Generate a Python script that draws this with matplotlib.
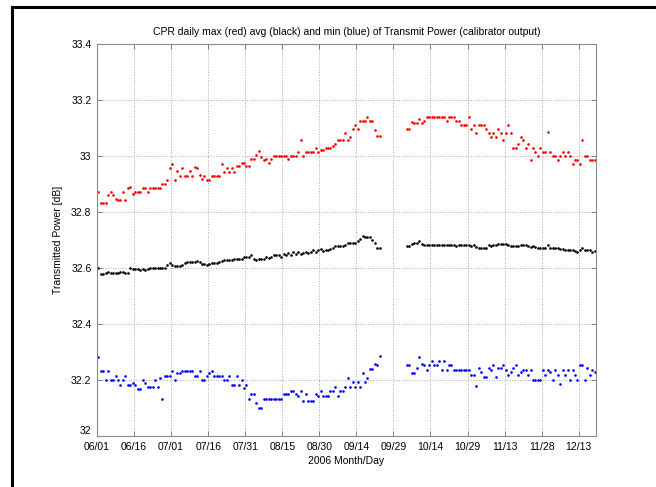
import numpy as np
import pandas as pd
import matplotlib
matplotlib.use('Agg')
import matplotlib.pyplot as plt
import matplotlib.transforms as mtransforms
from matplotlib.lines import Line2D

# daily values, 06/01 .. 09/24 and 10/04 .. 12/19 (gap in between)
max_a = [32.870, 32.830, 32.830, 32.830, 32.858, 32.870, 32.858, 32.846, 32.842, 32.842,
         32.870, 32.842, 32.886, 32.889, 32.862, 32.870, 32.870, 32.870, 32.886, 32.886,
         32.870, 32.886, 32.886, 32.886, 32.886, 32.886, 32.898, 32.898, 32.913, 32.955,
         32.970, 32.913, 32.945, 32.929, 32.955, 32.929, 32.929, 32.945, 32.929, 32.960,
         32.955, 32.930, 32.917, 32.928, 32.914, 32.914, 32.928, 32.928, 32.928, 32.928,
         32.971, 32.943, 32.956, 32.943, 32.956, 32.943, 32.962, 32.962, 32.974, 32.974,
         32.962, 32.962, 32.988, 32.988, 33.001, 33.017, 32.996, 32.983, 32.988, 32.974,
         32.988, 33.000, 33.000, 33.000, 33.000, 33.000, 33.000, 32.988, 33.000, 33.000,
         33.000, 33.013, 33.057, 33.000, 33.014, 33.014, 33.013, 33.013, 33.029, 33.013,
         33.020, 33.020, 33.026, 33.026, 33.029, 33.035, 33.042, 33.055, 33.055, 33.055,
         33.081, 33.055, 33.068, 33.095, 33.108, 33.095, 33.124, 33.124, 33.124, 33.138,
         33.124, 33.124, 33.093, 33.070, 33.070]
max_b = [33.096, 33.096, 33.120, 33.118, 33.118, 33.129, 33.118, 33.124, 33.138, 33.138,
         33.138, 33.138, 33.138, 33.138, 33.138, 33.138, 33.124, 33.138, 33.138, 33.138,
         33.124, 33.124, 33.110, 33.110, 33.110, 33.138, 33.095, 33.110, 33.081, 33.110,
         33.110, 33.110, 33.095, 33.081, 33.067, 33.081, 33.067, 33.095, 33.081, 33.055,
         33.081, 33.110, 33.081, 33.026, 33.026, 33.042, 33.068, 33.055, 33.026, 33.042,
         32.983, 33.026, 33.013, 32.998, 33.026, 33.013, 33.013, 33.083, 33.013, 32.998,
         32.998, 32.983, 32.998, 33.013, 32.998, 33.013, 32.998, 32.970, 32.983, 32.983,
         32.970, 33.055, 32.998, 32.998, 32.983, 32.983, 32.983]

avg_a = [32.601, 32.578, 32.578, 32.581, 32.586, 32.583, 32.581, 32.583, 32.583, 32.586,
         32.586, 32.583, 32.583, 32.598, 32.596, 32.595, 32.595, 32.593, 32.595, 32.593,
         32.595, 32.598, 32.600, 32.600, 32.600, 32.600, 32.600, 32.601, 32.609, 32.617,
         32.611, 32.606, 32.605, 32.606, 32.611, 32.617, 32.619, 32.621, 32.621, 32.621,
         32.623, 32.619, 32.614, 32.614, 32.610, 32.614, 32.617, 32.617, 32.617, 32.619,
         32.624, 32.626, 32.626, 32.626, 32.629, 32.633, 32.630, 32.630, 32.630, 32.640,
         32.640, 32.638, 32.645, 32.631, 32.629, 32.630, 32.630, 32.630, 32.640, 32.636,
         32.638, 32.645, 32.645, 32.645, 32.640, 32.650, 32.645, 32.652, 32.645, 32.657,
         32.650, 32.657, 32.650, 32.652, 32.657, 32.652, 32.657, 32.662, 32.655, 32.664,
         32.667, 32.660, 32.662, 32.662, 32.668, 32.671, 32.676, 32.677, 32.677, 32.677,
         32.683, 32.688, 32.688, 32.688, 32.690, 32.695, 32.702, 32.712, 32.711, 32.711,
         32.711, 32.698, 32.690, 32.671, 32.669]
avg_b = [32.679, 32.679, 32.686, 32.688, 32.688, 32.695, 32.686, 32.683, 32.680, 32.680,
         32.681, 32.681, 32.680, 32.681, 32.683, 32.681, 32.681, 32.681, 32.680, 32.681,
         32.676, 32.680, 32.680, 32.680, 32.680, 32.681, 32.676, 32.681, 32.674, 32.669,
         32.669, 32.669, 32.669, 32.681, 32.679, 32.681, 32.683, 32.686, 32.686, 32.686,
         32.686, 32.683, 32.679, 32.679, 32.679, 32.676, 32.681, 32.681, 32.681, 32.676,
         32.674, 32.676, 32.674, 32.669, 32.671, 32.671, 32.671, 32.681, 32.669, 32.671,
         32.671, 32.669, 32.667, 32.667, 32.662, 32.664, 32.664, 32.664, 32.660, 32.657,
         32.662, 32.669, 32.664, 32.664, 32.662, 32.657, 32.660]

min_a = [32.282, 32.231, 32.231, 32.199, 32.231, 32.199, 32.199, 32.215, 32.199, 32.183,
         32.199, 32.215, 32.183, 32.183, 32.190, 32.183, 32.167, 32.167, 32.199, 32.190,
         32.174, 32.174, 32.174, 32.199, 32.174, 32.207, 32.133, 32.215, 32.215, 32.215,
         32.231, 32.199, 32.223, 32.223, 32.231, 32.231, 32.231, 32.231, 32.231, 32.215,
         32.215, 32.231, 32.199, 32.199, 32.215, 32.223, 32.231, 32.215, 32.215, 32.215,
         32.215, 32.199, 32.199, 32.215, 32.183, 32.183, 32.215, 32.183, 32.199, 32.171,
         32.183, 32.133, 32.151, 32.151, 32.117, 32.100, 32.100, 32.133, 32.133, 32.133,
         32.133, 32.133, 32.133, 32.133, 32.133, 32.151, 32.151, 32.151, 32.162, 32.162,
         32.151, 32.142, 32.162, 32.125, 32.151, 32.125, 32.125, 32.125, 32.151, 32.142,
         32.162, 32.142, 32.142, 32.142, 32.161, 32.161, 32.175, 32.143, 32.161, 32.161,
         32.175, 32.207, 32.175, 32.193, 32.175, 32.193, 32.175, 32.225, 32.193, 32.207,
         32.239, 32.239, 32.257, 32.252, 32.286]
min_b = [32.252, 32.252, 32.225, 32.225, 32.242, 32.281, 32.257, 32.252, 32.235, 32.252,
         32.267, 32.252, 32.252, 32.267, 32.235, 32.267, 32.235, 32.252, 32.252, 32.235,
         32.235, 32.235, 32.235, 32.235, 32.235, 32.235, 32.218, 32.218, 32.179, 32.244,
         32.229, 32.212, 32.212, 32.244, 32.235, 32.252, 32.212, 32.244, 32.244, 32.252,
         32.235, 32.218, 32.229, 32.244, 32.252, 32.218, 32.229, 32.235, 32.235, 32.218,
         32.235, 32.201, 32.201, 32.201, 32.201, 32.235, 32.218, 32.235, 32.229, 32.201,
         32.235, 32.218, 32.184, 32.235, 32.218, 32.235, 32.201, 32.235, 32.218, 32.201,
         32.252, 32.252, 32.201, 32.244, 32.218, 32.235, 32.229]

start = pd.Timestamp('2006-06-01')
seg_a_start = pd.Timestamp('2006-06-01')
seg_b_start = pd.Timestamp('2006-10-04')
tick_labels = ['06/01', '06/16', '07/01', '07/16', '07/31', '08/15', '08/30',
               '09/14', '09/29', '10/14', '10/29', '11/13', '11/28', '12/13']

dates_a = pd.date_range(seg_a_start, periods=len(max_a), freq='D') + pd.Timedelta(hours=12)
dates_b = pd.date_range(seg_b_start, periods=len(max_b), freq='D') + pd.Timedelta(hours=12)
dates = dates_a.append(dates_b)
ymax = np.array(max_a + max_b)
yavg = np.array(avg_a + avg_b)
ymin = np.array(min_a + min_b)

plt.rcParams['font.family'] = ['Liberation Sans', 'DejaVu Sans']
fig = plt.figure(figsize=(6.56, 4.87), dpi=100)
ax = fig.add_axes([97/656., 1-436/487., (596-97)/656., (436-43.5)/487.])

ax.plot(dates, ymax, '.', color='#ff0000', ms=3.8, mew=0)
ax.plot(dates, yavg, '.', color='#000000', ms=3.8, mew=0)
ax.plot(dates, ymin, '.', color='#0000ff', ms=3.8, mew=0)

ticks = pd.date_range(start, periods=len(tick_labels), freq='15D')
ax.set_xticks(ticks)
ax.set_xticklabels(tick_labels)
ax.set_xlim(start, pd.Timestamp('2006-12-20'))
ax.set_ylim(32, 33.4)
yt = np.arange(32, 33.41, 0.2)
ax.set_yticks(yt)
ax.set_yticklabels(['%g' % round(v, 1) for v in yt])

ax.grid(True, linestyle=':', color='#a8a8a8', linewidth=0.7)
ax.tick_params(direction='in', length=3.5, width=0.6, color='#707070',
               labelsize=7.5, top=True, right=True)
ax.tick_params(axis='x', pad=4)
ax.tick_params(axis='y', pad=4)
for s in ax.spines.values():
    s.set_color('#8c8c8c')
    s.set_linewidth(0.8)

# lift the bottom y label so it clears 06/01, like the original
lbl0 = ax.get_yticklabels()[0]
lbl0.set_transform(lbl0.get_transform() +
                   mtransforms.ScaledTranslation(0, 4/72., fig.dpi_scale_trans))

ax.set_title('CPR daily max (red) avg (black) and min (blue) of Transmit Power (calibrator output)',
             fontsize=7.5, pad=6)
ax.set_xlabel('2006 Month/Day', fontsize=7.5, labelpad=3)
ax.set_ylabel('Transmitted Power [dB]', fontsize=7.5, labelpad=6)

# frame lines of the original screenshot
fig.add_artist(Line2D([11.5/656, 1], [1-6.5/487, 1-6.5/487], color='k', lw=2.2,
                      transform=fig.transFigure))
fig.add_artist(Line2D([11.5/656, 11.5/656], [0, 1-6.5/487], color='k', lw=2.2,
                      transform=fig.transFigure))

fig.savefig('out.png', dpi=100)
